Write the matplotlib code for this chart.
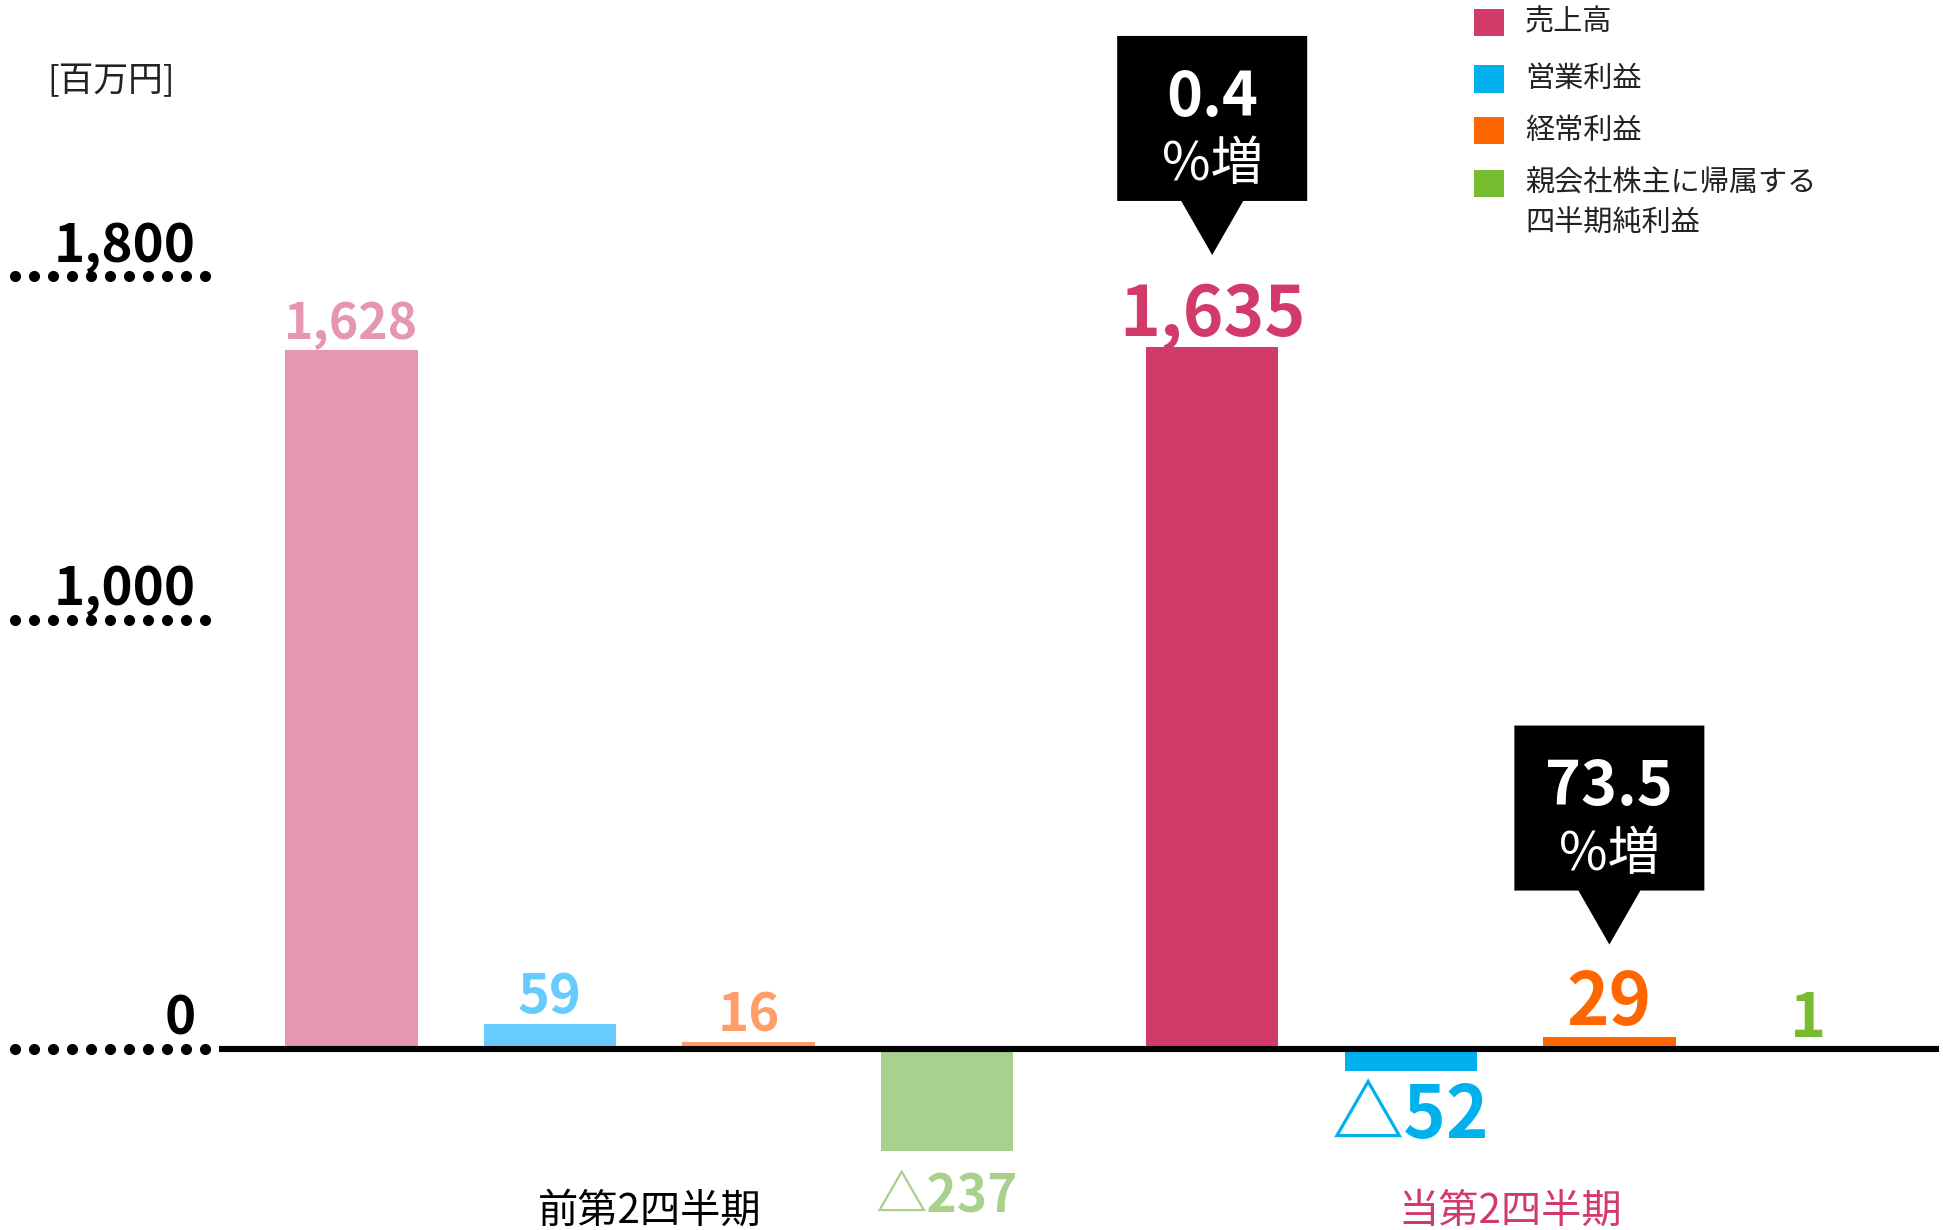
import numpy as np
import matplotlib
matplotlib.use('Agg')
import matplotlib.pyplot as plt
import matplotlib.transforms as mtransforms
from matplotlib.patches import Polygon, Rectangle

plt.rcParams['font.family'] = ['Noto Sans CJK JP', 'DejaVu Sans']

# data
categories = ['売上高', '営業利益', '経常利益', '親会社株主に帰属する\n四半期純利益']
periods = ['前第2四半期', '当第2四半期']
prev_values = [1628, 59, 16, -237]
curr_values = [1635, -52, 29, 1]
growth_idx = [0, 2]
growth_pct = ['0.4', '73.5']
yticks = [0, 1000, 1800]

prev_colors = ['#E696AF', '#66CCFF', '#FF9E69', '#A9D18E']
curr_colors = ['#D23A69', '#00B1EE', '#FF6600', '#76BC2E']
prev_sizes = [36, 39, 38, 37]
curr_sizes = [50, 52, 52, 44]

W, H = 1943, 1230
fig = plt.figure(figsize=(W / 100, H / 100), dpi=100)
ax = fig.add_axes([0, 0, 1, 1])
ax.axis('off')
ax.set_xlim(-1.769, 8.015)
ax.set_ylim(-421.5, 2443)

width = 0.667
x_prev = np.arange(len(prev_values))
x_curr = np.arange(len(curr_values)) + 4.335


def fmt(v):
    return ('△' if v < 0 else '') + f'{abs(v):,}'


def px(x, y):
    return x / W, 1 - y / H


for xs, vals, cols, sizes, neg_off in [(x_prev, prev_values, prev_colors, prev_sizes, -14),
                                       (x_curr, curr_values, curr_colors, curr_sizes, -6)]:
    ax.bar(xs, vals, width=width, color=cols, zorder=2)
    for x, v, c, s in zip(xs, vals, cols, sizes):
        if v >= 0:
            ax.annotate(fmt(v), (x, v), xytext=(0, 8), textcoords='offset points',
                        ha='center', va='baseline', fontsize=s, fontweight='bold', color=c)
        else:
            ax.annotate(fmt(v), (x, v), xytext=(0, neg_off), textcoords='offset points',
                        ha='center', va='top', fontsize=s, fontweight='bold', color=c)

# zero line
ax.hlines(0, x_prev[0] - width, x_curr[-1] + width * 0.99, color='black', lw=4.4, zorder=3)

# y ticks as dotted leaders
for t in yticks:
    ax.plot(np.linspace(-1.693, -0.737, 11), np.full(11, t), 'o', ms=7, color='black',
            clip_on=False)
    ax.annotate(f'{t:,}', (-0.782, t), xytext=(0, 10.5), textcoords='offset points',
                ha='right', va='baseline', fontsize=38, fontweight='bold', color='black')

fig.text(*px(47, 82), '[百万円]', fontsize=25, ha='left', va='center', color='#222222')

# growth callouts (shape in pixels relative to the apex)
shape = [(0, 0), (31, 54), (95, 54), (95, 219), (-95, 219), (-95, 54), (-31, 54)]
for i, pct in zip(growth_idx, growth_pct):
    x, v = x_curr[i], curr_values[i]
    trans = mtransforms.Affine2D().translate(0, 92) + \
        mtransforms.ScaledTranslation(x, v, ax.transData)
    ax.add_patch(Polygon(shape, closed=True, facecolor='black', edgecolor='none',
                         transform=trans, zorder=4, clip_on=False))
    ax.annotate(pct, (x, v), xytext=(0, (92 + 157) * 0.72), textcoords='offset points',
                ha='center', va='center', fontsize=44, fontweight='bold', color='white',
                zorder=5)
    ax.annotate('%増', (x, v), xytext=(0, (92 + 90) * 0.72), textcoords='offset points',
                ha='center', va='center', fontsize=38, color='white', zorder=5)

# period labels
blend = mtransforms.blended_transform_factory(ax.transData, ax.transAxes)
ax.text(x_prev.mean(), 1 - 1211 / H, periods[0], transform=blend, ha='center',
        va='center', fontsize=29, color='black')
ax.text(x_curr.mean(), 1 - 1211 / H, periods[1], transform=blend, ha='center',
        va='center', fontsize=29, color=curr_colors[0])

# legend
row_y = [22.5, 79, 130.7, 183.3]
for lab, c, y in zip(categories, curr_colors, row_y):
    fig.add_artist(Rectangle(px(1474, y + 13.5), 30 / W, 27 / H, transform=fig.transFigure,
                             facecolor=c, edgecolor='none'))
    for k, line in enumerate(lab.split('\n')):
        fig.text(*px(1525, y + 40 * k), line, fontsize=21, ha='left', va='center',
                 color='#222222')

fig.savefig('out.png', dpi=100)
